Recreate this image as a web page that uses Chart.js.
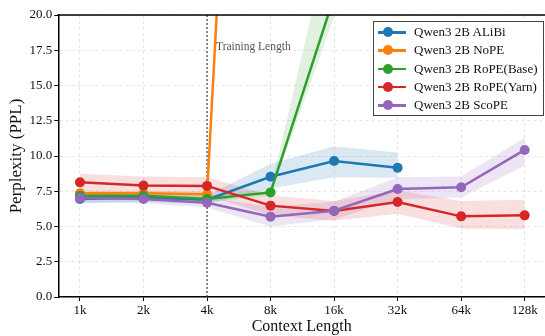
<!DOCTYPE html>
<html>
<head>
<meta charset="utf-8">
<script src="https://cdn.jsdelivr.net/npm/chart.js@4.4.1/dist/chart.umd.min.js"></script>
<style>
  body { margin: 0; background: #fff; }
  #wrap { position: relative; width: 545px; height: 336px; }
  #legend {
    position: absolute; left: 373px; top: 21px; width: 169px; height: 93px;
    border: 1px solid #444; background: rgba(255,255,255,0.85);
    font-family: 'Liberation Serif', 'DejaVu Serif', serif; font-size: 13px; color: #111;
    box-sizing: content-box;
  }
  .row { position: absolute; left: 0; height: 18px; line-height: 18px; white-space: nowrap; }
  .swatch { position: absolute; left: 4px; top: 8px; width: 28px; height: 2.5px; }
  .dot { position: absolute; left: 9px; top: 4px; width: 10px; height: 10px; border-radius: 50%; }
  .lbl { position: absolute; left: 40px; top: 0; }
</style>
</head>
<body>
<div id="wrap">
  <canvas id="chart" width="545" height="336"></canvas>
  <div id="legend"></div>
</div>
<script>
// x categories
const contextLabels = ['1k', '2k', '4k', '8k', '16k', '32k', '64k', '128k'];
const yTicks = [0, 2.5, 5, 7.5, 10, 12.5, 15, 17.5, 20];

// perplexity per model (mean, lower, upper)
const alibi   = [6.95, 7.05, 6.90, 8.53, 9.64, 9.17, null, null];
const alibiLo = [6.65, 6.75, 6.60, 7.70, 8.50, 8.45, null, null];
const alibiHi = [7.25, 7.35, 7.20, 9.45, 10.70, 10.25, null, null];

const nope   = [7.35, 7.35, 7.28, 91, null, null, null, null];
const nopeLo = [7.15, 7.15, 7.08, 86, null, null, null, null];
const nopeHi = [7.55, 7.55, 7.48, 96, null, null, null, null];

const ropeBase   = [7.18, 7.18, 6.95, 7.42, 21.3, null, null, null];
const ropeBaseLo = [6.95, 6.95, 6.72, 7.20, 19.9, null, null, null];
const ropeBaseHi = [7.42, 7.42, 7.18, 7.65, 26.9, null, null, null];

const ropeYarn   = [8.13, 7.90, 7.88, 6.48, 6.10, 6.74, 5.72, 5.79];
const ropeYarnLo = [7.50, 7.30, 7.20, 5.80, 5.40, 5.90, 4.85, 4.80];
const ropeYarnHi = [8.75, 8.55, 8.50, 7.20, 6.80, 7.55, 6.80, 6.90];

const scope   = [7.02, 6.95, 6.69, 5.70, 6.12, 7.66, 7.78, 10.43];
const scopeLo = [6.72, 6.65, 6.35, 5.00, 5.50, 6.95, 7.05, 9.30];
const scopeHi = [7.32, 7.25, 7.05, 6.40, 6.75, 8.50, 8.55, 11.30];

const series = [
  { name: 'Qwen3 2B ALiBi', color: '#1f77b4', band: 'rgba(31,119,180,0.17)', mean: alibi, lo: alibiLo, hi: alibiHi },
  { name: 'Qwen3 2B NoPE', color: '#ff7f0e', band: 'rgba(255,127,14,0.17)', mean: nope, lo: nopeLo, hi: nopeHi },
  { name: 'Qwen3 2B RoPE(Base)', color: '#2ca02c', band: 'rgba(44,160,44,0.15)', mean: ropeBase, lo: ropeBaseLo, hi: ropeBaseHi },
  { name: 'Qwen3 2B RoPE(Yarn)', color: '#d62728', band: 'rgba(214,39,40,0.15)', mean: ropeYarn, lo: ropeYarnLo, hi: ropeYarnHi },
  { name: 'Qwen3 2B ScoPE', color: '#9467bd', band: 'rgba(148,103,189,0.17)', mean: scope, lo: scopeLo, hi: scopeHi }
];

const toPts = arr => arr.map((v, i) => ({ x: i, y: v }));

const datasets = [];
series.forEach((s, k) => {
  datasets.push({ data: toPts(s.lo), borderWidth: 0, pointRadius: 0, fill: false, order: 20 });
  datasets.push({ data: toPts(s.hi), borderWidth: 0, pointRadius: 0, fill: '-1', backgroundColor: s.band, order: 20 });
  datasets.push({
    label: s.name, data: toPts(s.mean), borderColor: s.color, backgroundColor: s.color,
    borderWidth: 2.5, pointRadius: 5, pointBorderWidth: 0, pointBackgroundColor: s.color,
    fill: false, order: 10 - k
  });
});

Chart.defaults.font.family = "'Liberation Serif', 'DejaVu Serif', serif";
Chart.defaults.color = '#111';

const extras = {
  id: 'extras',
  beforeDatasetsDraw(chart) {
    const { ctx, chartArea, scales } = chart;
    const x = scales.x.getPixelForValue(2);
    ctx.save();
    ctx.strokeStyle = '#444';
    ctx.lineWidth = 1.2;
    ctx.setLineDash([2, 2]);
    ctx.beginPath();
    ctx.moveTo(x, chartArea.bottom);
    ctx.lineTo(x, chartArea.top);
    ctx.stroke();
    ctx.restore();
  },
  afterDraw(chart) {
    const { ctx, chartArea, scales } = chart;
    ctx.save();
    ctx.fillStyle = '#555';
    ctx.font = "11.5px 'Liberation Serif', serif";
    ctx.textBaseline = 'middle';
    ctx.fillText('Training Length', scales.x.getPixelForValue(2) + 9, scales.y.getPixelForValue(17.7));
    ctx.strokeStyle = '#000';
    ctx.lineWidth = 1.5;
    ctx.beginPath();
    ctx.moveTo(chartArea.left - 0.75, chartArea.top);
    ctx.lineTo(chartArea.right, chartArea.top);
    ctx.stroke();
    ctx.restore();
  }
};

new Chart(document.getElementById('chart'), {
  type: 'line',
  data: { datasets },
  options: {
    responsive: false,
    animation: false,
    layout: { autoPadding: false, padding: { top: 15, right: 0, left: 0, bottom: 0 } },
    plugins: {
      legend: { display: false },
      tooltip: { enabled: false },
      filler: { drawTime: 'beforeDatasetsDraw' }
    },
    scales: {
      x: {
        type: 'linear', min: -0.341, max: 7.32,
        afterFit: s => { s.height = 39; },
        ticks: { stepSize: 1, includeBounds: false, font: { size: 13 }, color: '#111', padding: 2,
                 maxRotation: 0, callback: v => contextLabels[v] },
        grid: { color: 'rgba(0,0,0,0.13)', lineWidth: 0.8, tickColor: '#000', tickLength: 4, tickWidth: 1 },
        border: { color: '#000', width: 1.5, dash: [3, 3] },
        title: { display: true, text: 'Context Length', font: { size: 16 }, color: '#111', padding: { top: 0, bottom: 0 } }
      },
      y: {
        min: 0, max: 20,
        afterFit: s => { s.width = 58.3; },
        afterBuildTicks: s => { s.ticks = yTicks.map(v => ({ value: v })); },
        ticks: { font: { size: 13 }, color: '#111', padding: 2, callback: v => v.toFixed(1) },
        grid: { color: 'rgba(0,0,0,0.13)', lineWidth: 0.8, tickColor: '#000', tickLength: 4, tickWidth: 1 },
        border: { color: '#000', width: 1.5, dash: [3, 3] },
        title: { display: true, text: 'Perplexity (PPL)', font: { size: 17 }, color: '#111', padding: { top: 6, bottom: 0 } }
      }
    }
  },
  plugins: [extras]
});

// legend
const legend = document.getElementById('legend');
series.forEach((s, i) => {
  const row = document.createElement('div');
  row.className = 'row';
  row.style.top = (1 + i * 18.3) + 'px';
  row.innerHTML = '<span class="swatch" style="background:' + s.color + '"></span>' +
    '<span class="dot" style="background:' + s.color + '"></span>' +
    '<span class="lbl">' + s.name + '</span>';
  legend.appendChild(row);
});
</script>
</body>
</html>
